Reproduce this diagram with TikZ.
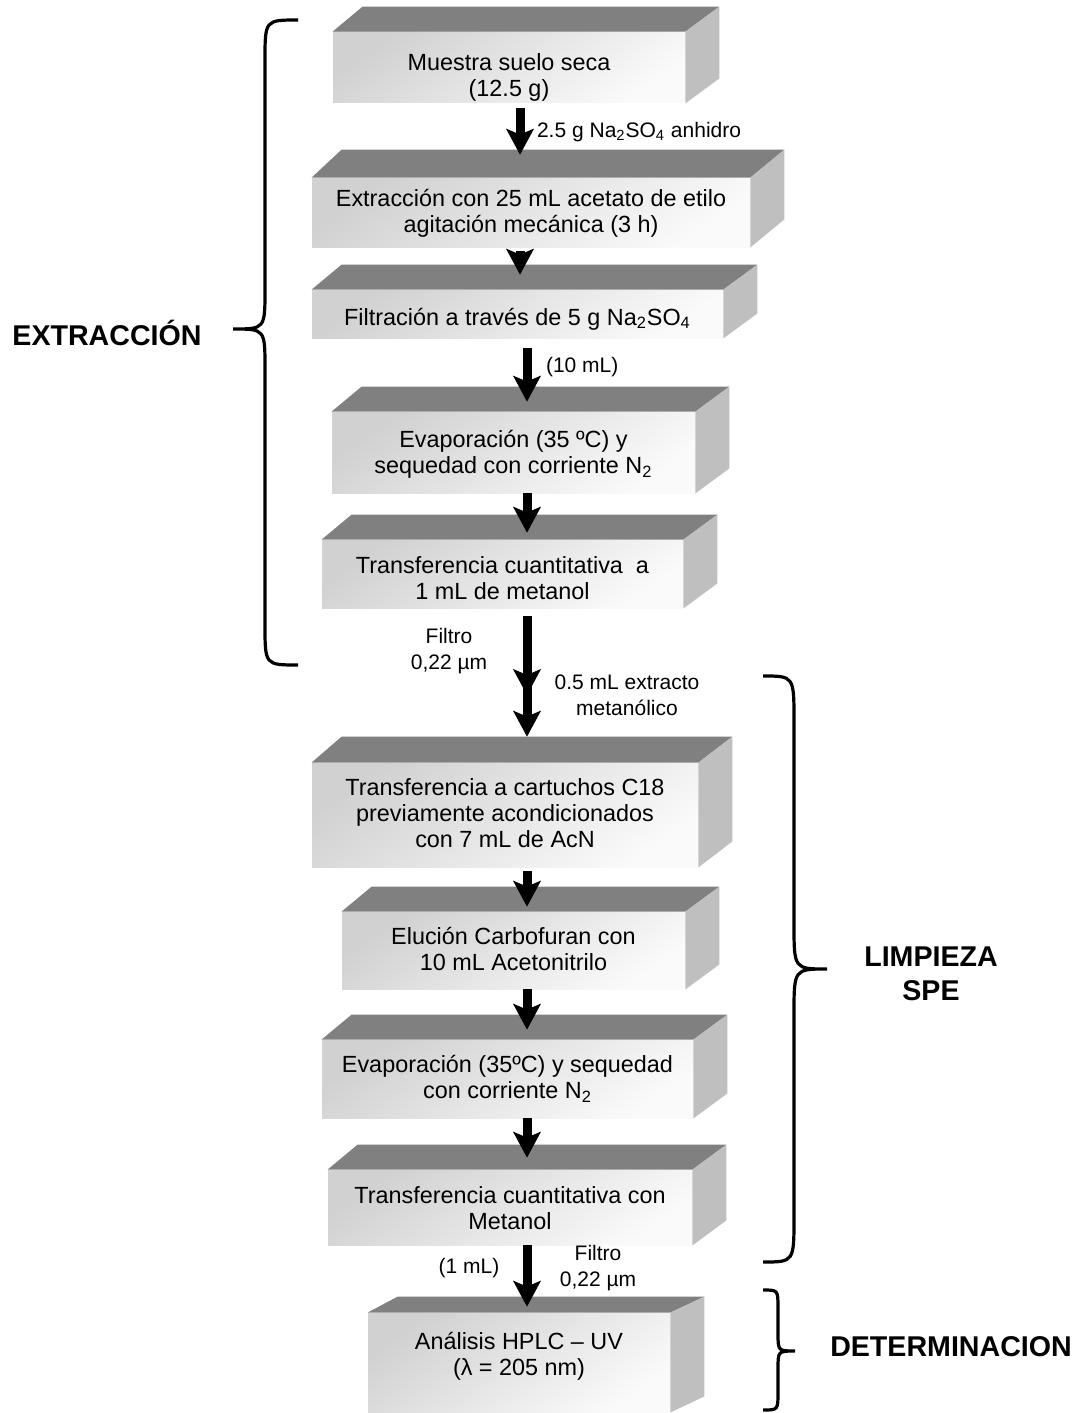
\documentclass[tikz,border=0pt]{standalone}
\usepackage{fontspec}
\setmainfont{Liberation Sans}
\usetikzlibrary{arrows.meta, fit, calc}

% one step box: [depth of the top face]{name}{corner}{corner}{text drop}{text}
\newcommand{\slab}[6][25]{%
	\node[slab, fit={#3 #4}] (#2) {};
	\fill[topface]	(#2.north west) -- ++(30,-#1) -- ([shift={(34,-#1)}]#2.north east) -- (#2.north east) -- cycle;
	\fill[sideface]	(#2.north east) -- ++(34,-#1) -- ([shift={(34,-#1)}]#2.south east) -- (#2.south east) -- cycle;
	\node[steptext] (#2t) at ([yshift=-#5]#2.center) {#6};
}
% curly bracket: {end x}{spine x}{tip x}{top y}{tip y}{bottom y}{radius}
\newcommand{\curly}[7]{%
	\draw[bracket]	(#1,#4) .. controls (#2,#4) .. (#2,#4+#7) -- (#2,#5-#7) .. controls (#2,#5) .. (#3,#5)
		.. controls (#2,#5) .. (#2,#5+#7) -- (#2,#6-#7) .. controls (#2,#6) .. (#1,#6);
}

\begin{document}
\begin{tikzpicture}[x=0.5pt, y=-0.5pt]
	\tikzset{
		slab/.style={shade, top color=black!18, bottom color=black!2, shading angle=35, inner sep=0pt},
		steptext/.style={align=center, inner sep=0pt, font=\fontsize{11.7}{13}\selectfont},
		topface/.style={fill=black!50},
		sideface/.style={fill=black!25},
		flow/.style={line width=4.5pt, -{Stealth[length=13pt, width=14pt, inset=3pt, line width=0.4pt]}},
		note/.style={align=center, font=\fontsize{10.5}{13}\selectfont},
		stage/.style={align=center, font=\bfseries\fontsize{14.3}{17}\selectfont},
		bracket/.style={line width=1.6pt},
	}
	\useasboundingbox (0,0) rectangle (1080,1413);

	% spines of the arrows
	\coordinate (s1) at (520,0);
	\coordinate (s2) at (527,0);

	\slab{b1}{(333,32)}{(685,103)}{5pt}{Muestra suelo seca\\(12.5 g)}
	\slab[28]{b2}{(312,178)}{(750,247)}{0.5pt}{Extracción con 25 mL acetato de etilo\\agitación mecánica (3 h)}
	\slab{b3}{(312,290)}{(723,338)}{2.5pt}{Filtración a través de 5 g Na\textsubscript{2}SO\textsubscript{4}}
	\slab{b4}{(332,412)}{(695,493)}{1pt}{Evaporación (35 ºC) y\\sequedad con corriente N\textsubscript{2}}
	\slab{b5}{(322,540)}{(683,608)}{2pt}{Transferencia cuantitativa~ a\\1 mL de metanol}
	\slab[26]{b6}{(312,763)}{(698,867)}{-1pt}{Transferencia a cartuchos C18\\previamente acondicionados\\con 7 mL de AcN}
	\slab{b7}{(342,912)}{(685,989)}{-1pt}{Elución Carbofuran con\\10 mL Acetonitrilo}
	\slab{b8}{(322,1040)}{(693,1118)}{0pt}{Evaporación (35ºC) y sequedad\\con corriente N\textsubscript{2}}
	\slab{b9}{(328,1170)}{(692,1245)}{0.5pt}{Transferencia cuantitativa con\\Metanol}
	\slab[16]{b10}{(368,1313)}{(670,1412)}{-3pt}{Análisis HPLC – UV\\(λ = 205 nm)}

	% arrows
	\draw[flow, shorten <=2.5pt, shorten >=11.5pt]	(b1.south -| s1) -- (b2.north -| s1);
	\draw[flow, shorten <=2pt, shorten >=7.5pt]	(b2.south -| s1) -- (b3.north -| s1);
	\draw[flow, shorten <=5pt, shorten >=5pt]	(b3.south -| s2) -- (b4.north -| s2);
	\draw[flow, shorten >=3.5pt]	(b4.south -| s2) -- (b5.north -| s2);
	\coordinate (j1) at (527,695);
	\coordinate (j0) at (527,668);
	\draw[flow, shorten <=4pt]	(b5.south -| s2) -- (j1);
	\draw[flow, shorten >=13pt]	(j0) -- (b6.north -| s2);
	\draw[flow, shorten <=2pt, shorten >=2.5pt]	(b6.south -| s2) -- (b7.north -| s2);
	\draw[flow, shorten >=5pt]	(b7.south -| s2) -- (b8.north -| s2);
	\draw[flow, shorten >=6pt]	(b8.south -| s2) -- (b9.north -| s2);
	\draw[flow, shorten >=3pt]	(b9.south -| s2) -- (b10.north -| s2);

	\node[note, anchor=west] (l1) at (530,132) {2.5 g Na\textsubscript{2}SO\textsubscript{4} anhidro};
	\node[note, anchor=west] (l3) at (539,367) {(10 mL)};
	\node[note] (l5a) at (449,651) {Filtro\\0,22 µm};
	\node[note] (l5b) at (627,695) {0.5 mL extracto\\metanólico};
	\node[note] (l9a) at (469,1268) {(1 mL)};
	\node[note] (l9b) at (598,1268) {Filtro\\0,22 µm};

	% stages
	\curly{298}{265}{233}{20}{329}{665}{40}
	\curly{763}{794}{827}{676}{969}{1262}{45}
	\curly{763}{778}{795}{1290}{1351}{1410}{18}
	\node[stage] (extr) at (107,333) {EXTRACCIÓN};
	\node[stage] (limp) at (931,974) {LIMPIEZA\\SPE};
	\node[stage] (det) at (951,1347) {DETERMINACION};
\end{tikzpicture}
\end{document}
